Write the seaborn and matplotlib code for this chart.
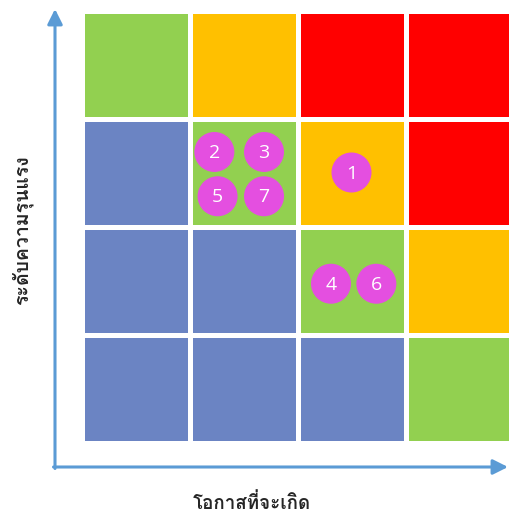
import numpy as np
import pandas as pd
import seaborn as sns
import matplotlib
matplotlib.use("Agg")
import matplotlib.pyplot as plt
from matplotlib.colors import ListedColormap
from matplotlib import font_manager, ft2font

# Risk level of each cell, row 0 = lowest severity, column 0 = lowest likelihood
# 0 = low (blue), 1 = moderate (green), 2 = high (amber), 3 = extreme (red)
risk_levels = [
    [0, 0, 0, 1],
    [0, 0, 1, 2],
    [0, 1, 2, 3],
    [1, 2, 3, 3],
]
level_colors = ["#6B84C3", "#92D050", "#FFC000", "#FF0000"]

# Identified risks placed on the matrix (likelihood, severity in cell units)
risk_ids = ["1", "2", "3", "4", "5", "6", "7"]
risk_likelihood = [2.50, 1.23, 1.69, 2.31, 1.26, 2.73, 1.69]
risk_severity = [2.50, 2.69, 2.69, 1.47, 2.28, 1.47, 2.28]

x_title = "โอกาสที่จะเกิด"
y_title = "ระดับความรุนแรง"


def thai_family():
    names = []
    for f in font_manager.fontManager.ttflist:
        try:
            if 0x0E01 in ft2font.FT2Font(f.fname).get_charmap():
                names.append(f.name)
        except Exception:
            pass
    return names[0] if names else "DejaVu Sans"


sns.set_style("white")
plt.rcParams["font.family"] = ["DejaVu Sans"]
thai = thai_family()

W, H, DPI = 509, 521, 100
fig = plt.figure(figsize=(W / DPI, H / DPI), dpi=DPI)

# Overlay in pixel units for the axis arrows and titles
deco = fig.add_axes([0, 0, 1, 1])
deco.set_xlim(0, W)
deco.set_ylim(H, 0)
deco.axis("off")

# Matrix axes
pitch = 108
left, top = 81.5, 10.5
ax = fig.add_axes([left / W, 1 - (top + 4 * pitch) / H, 4 * pitch / W, 4 * pitch / H])

df = pd.DataFrame(risk_levels)
sns.heatmap(df, ax=ax, cmap=ListedColormap(level_colors), vmin=-0.5, vmax=3.5,
            cbar=False, linewidths=2.2, linecolor="white", square=False)
ax.invert_yaxis()
ax.set_xticks([])
ax.set_yticks([])
ax.set_xlabel("")
ax.set_ylabel("")
for s in ax.spines.values():
    s.set_visible(False)

ax.scatter(risk_likelihood, risk_severity, s=830, color="#E44FE0",
           edgecolors="none", zorder=5, clip_on=False)
for rid, x, y in zip(risk_ids, risk_likelihood, risk_severity):
    ax.text(x, y - 0.01, rid, color="white", fontsize=14, ha="center", va="center",
            family=["Open Sans", "DejaVu Sans"], zorder=6)

# Axis arrows
arrow_color = "#5B9BD5"
deco.annotate("", xy=(55, 9), xytext=(55, 468.5),
              arrowprops=dict(arrowstyle="-|>,head_length=0.9,head_width=0.45",
                              color=arrow_color, lw=2.2, shrinkA=0, shrinkB=0))
deco.annotate("", xy=(508, 467), xytext=(53.5, 467),
              arrowprops=dict(arrowstyle="-|>,head_length=0.9,head_width=0.45",
                              color=arrow_color, lw=2.2, shrinkA=0, shrinkB=0))

deco.text(252, 503, x_title, ha="center", va="center", fontsize=13.5,
          fontweight="bold", family=[thai, "DejaVu Sans"])
deco.text(22, 230, y_title, ha="center", va="center", fontsize=14,
          fontweight="bold", rotation=90, family=[thai, "DejaVu Sans"])

fig.savefig("out.png", dpi=DPI)
